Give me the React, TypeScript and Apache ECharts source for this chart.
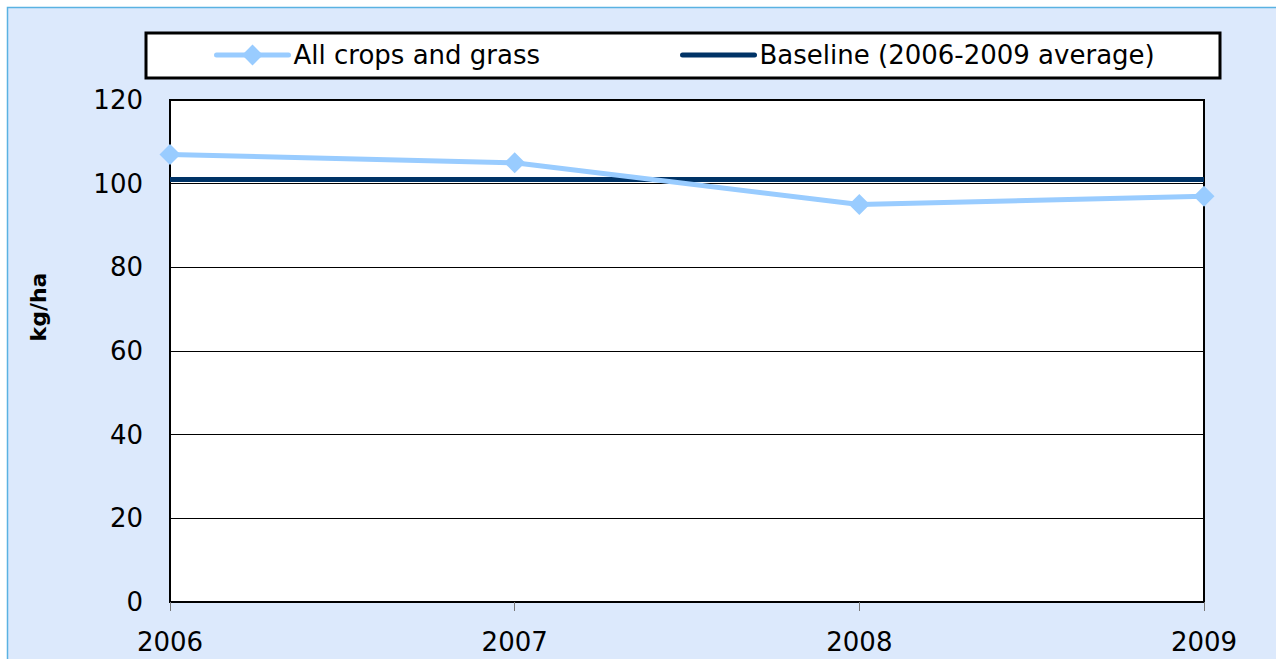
import React, { useEffect, useRef } from "react";
import * as echarts from "echarts";

const years = ["2006", "2007", "2008", "2009"];
const allCrops = [107, 105, 95, 97];
const baseline = [101, 101, 101, 101];
const seriesNames = ["All crops and grass", "Baseline (2006-2009 average)"];
const yTicks = { min: 0, max: 120, interval: 20 };
const yAxisName = "kg/ha";

const FONT = "'DejaVu Sans', sans-serif";

export default function App() {
  const ref = useRef<HTMLDivElement>(null);
  useEffect(() => {
    if (!ref.current) return;
    const chart = echarts.init(ref.current, undefined, { renderer: "svg" });
    chart.setOption({
      animation: false,
      backgroundColor: "#ffffff",
      textStyle: { fontFamily: FONT },
      graphic: [
        {
          type: "rect",
          z: -10,
          shape: { x: 7.5, y: 7.5, width: 1320, height: 720 },
          style: { fill: "#dce9fc", stroke: "#5ab2e2", lineWidth: 1.5 },
          silent: true,
        },
        {
          type: "rect",
          z: 1,
          shape: { x: 146, y: 33, width: 1074, height: 45 },
          style: { fill: "#ffffff", stroke: "#000000", lineWidth: 3 },
          silent: true,
        },
        {
          type: "text",
          z: 5,
          x: 38,
          y: 307,
          rotation: Math.PI / 2,
          style: {
            text: yAxisName,
            fontSize: 22,
            fontWeight: "bold",
            fontFamily: FONT,
            fill: "#000",
            align: "center",
            verticalAlign: "middle",
          },
          silent: true,
        },
      ],
      legend: [
        {
          data: [seriesNames[0]],
          left: 214,
          top: 39,
          z: 10,
          padding: 0,
          itemWidth: 72,
          itemHeight: 26,
          itemGap: 0,
          lineStyle: { width: 5, cap: "round" },
          textStyle: { fontSize: 26, color: "#000", fontFamily: FONT, lineHeight: 32 },
        },
        {
          data: [seriesNames[1]],
          left: 680,
          top: 39,
          z: 10,
          padding: 0,
          itemWidth: 72,
          itemHeight: 18,
          itemGap: 0,
          lineStyle: { width: 5, cap: "round" },
          itemStyle: { opacity: 0 },
          textStyle: { fontSize: 26, color: "#000", fontFamily: FONT, lineHeight: 32 },
        },
      ],
      grid: {
        left: 170,
        top: 100,
        width: 1034,
        height: 502,
        show: true,
        backgroundColor: "#ffffff",
        borderColor: "#000000",
        borderWidth: 2,
        containLabel: false,
      },
      xAxis: {
        type: "category",
        data: years,
        boundaryGap: false,
        axisLine: { show: true, lineStyle: { color: "#000", width: 2 } },
        axisTick: { show: true, length: 9, lineStyle: { color: "#777", width: 1 } },
        axisLabel: { fontSize: 26, color: "#000", margin: 27, fontFamily: FONT },
        splitLine: { show: false },
      },
      yAxis: {
        type: "value",
        min: yTicks.min,
        max: yTicks.max,
        interval: yTicks.interval,
        axisLine: { show: true, lineStyle: { color: "#000", width: 2 } },
        axisTick: { show: false },
        axisLabel: { fontSize: 26, color: "#000", margin: 27, fontFamily: FONT },
        splitLine: { show: true, lineStyle: { color: "#000", width: 1 } },
      },
      series: [
        {
          name: seriesNames[1],
          type: "line",
          data: baseline,
          symbol: "none",
          lineStyle: { color: "#003366", width: 5 },
          itemStyle: { color: "#003366" },
          z: 3,
        },
        {
          name: seriesNames[0],
          type: "line",
          data: allCrops,
          symbol: "diamond",
          symbolSize: 21,
          lineStyle: { color: "#99ccff", width: 5 },
          itemStyle: { color: "#99ccff" },
          z: 4,
        },
      ],
    });
    return () => chart.dispose();
  }, []);
  return (
    <div
      ref={ref}
      style={{ position: "absolute", left: 0, top: 0, width: 1276, height: 659 }}
    />
  );
}
